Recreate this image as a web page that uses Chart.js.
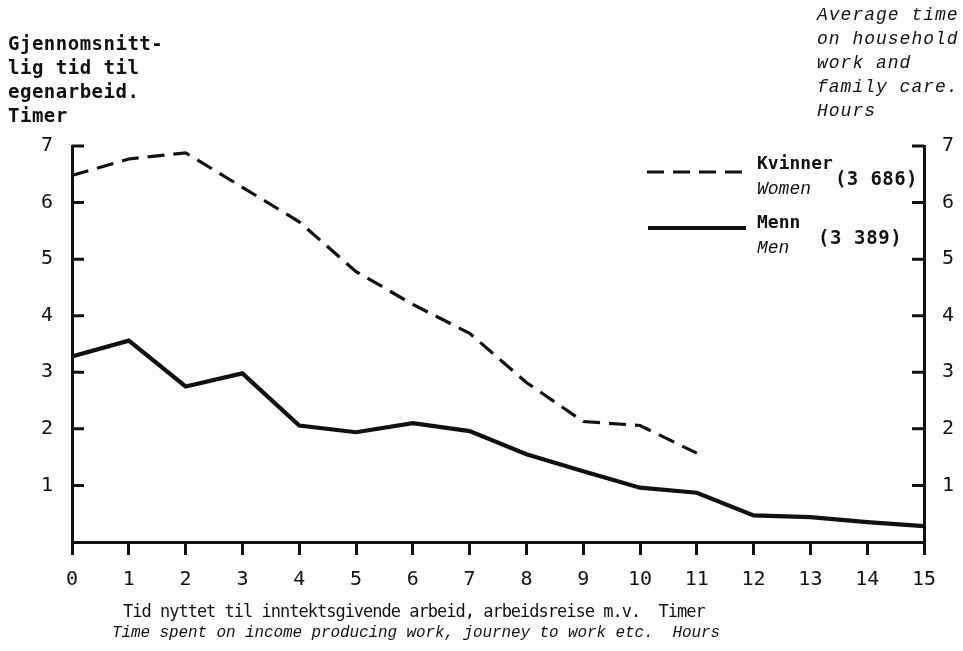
<!DOCTYPE html>
<html>
<head>
<meta charset="utf-8">
<script src="https://cdn.jsdelivr.net/npm/chart.js@4/dist/chart.umd.min.js"></script>
<style>
  html, body { margin: 0; padding: 0; background: #fff; }
  #wrap { position: relative; width: 963px; height: 651px; overflow: hidden; }
  canvas { position: absolute; left: 0; top: 0; }
  .t { position: absolute; color: #111; white-space: pre; line-height: 24px; }
  .no { font-family: "DejaVu Sans Mono", monospace; font-weight: bold; }
  .en { font-family: "Liberation Mono", "Courier New", monospace; font-style: italic; }
</style>
</head>
<body>
<div id="wrap">
  <canvas id="c" width="963" height="651"></canvas>
  <div class="t no" style="left:8px; top:31px; font-size:19px; letter-spacing:0.5px;">Gjennomsnitt-
lig tid til
egenarbeid.
Timer</div>
  <div class="t en" style="left:817px; top:3px; font-size:18px; letter-spacing:1px;">Average time
on household
work and
family care.
Hours</div>
  <div class="t no" style="left:757px; top:152px; font-size:18px; line-height:22px;">Kvinner</div>
  <div class="t no" style="left:835px; top:167px; font-size:19px; line-height:22px; letter-spacing:0.4px;">(3 686)</div>
  <div class="t en" style="left:757px; top:178px; font-size:18px; line-height:22px;">Women</div>
  <div class="t no" style="left:757px; top:211px; font-size:18px; line-height:22px;">Menn</div>
  <div class="t no" style="left:818px; top:226px; font-size:19px; line-height:22px; letter-spacing:0.6px;">(3 389)</div>
  <div class="t en" style="left:757px; top:237px; font-size:18px; line-height:22px;">Men</div>
  <div class="t no" style="left:123px; top:599px; font-size:17px; letter-spacing:-1px; font-weight:normal;">Tid nyttet til inntektsgivende arbeid, arbeidsreise m.v.  Timer</div>
  <div class="t en" style="left:112px; top:621px; font-size:16px; letter-spacing:-0.1px;">Time spent on income producing work, journey to work etc.  Hours</div>
</div>
<script>
const hours = [0, 1, 2, 3, 4, 5, 6, 7, 8, 9, 10, 11, 12, 13, 14, 15];
const womenValues = [6.48, 6.77, 6.88, 6.27, 5.66, 4.78, 4.2, 3.69, 2.82, 2.13, 2.06, 1.57];
const menValues = [3.28, 3.56, 2.75, 2.98, 2.06, 1.94, 2.1, 1.96, 1.55, 1.25, 0.96, 0.87, 0.47, 0.44, 0.35, 0.28];
const yTicks = [1, 2, 3, 4, 5, 6, 7];

const toPoints = vals => vals.map((v, i) => ({ x: hours[i], y: v }));

const innerTicks = {
  id: 'innerTicks',
  afterDraw(chart) {
    const ctx = chart.ctx;
    const a = chart.chartArea;
    const y = chart.scales.y;
    ctx.save();
    ctx.strokeStyle = '#111';
    ctx.lineWidth = 3;
    yTicks.forEach(v => {
      const py = y.getPixelForValue(v);
      ctx.beginPath();
      ctx.moveTo(a.left, py); ctx.lineTo(a.left + 12, py);
      ctx.moveTo(a.right - 12, py); ctx.lineTo(a.right, py);
      ctx.stroke();
    });
    // legend samples
    ctx.setLineDash([17, 9]);
    ctx.beginPath(); ctx.moveTo(647, 172); ctx.lineTo(745, 172); ctx.stroke();
    ctx.setLineDash([]);
    ctx.lineWidth = 4;
    ctx.beginPath(); ctx.moveTo(648, 228); ctx.lineTo(746, 228); ctx.stroke();
    ctx.restore();
  }
};

const tickFont = { family: 'DejaVu Sans Mono', size: 20 };

new Chart(document.getElementById('c'), {
  type: 'line',
  data: {
    datasets: [
      { label: 'Kvinner', data: toPoints(womenValues), borderColor: '#111', borderWidth: 3.2, borderDash: [17, 9], pointRadius: 0, tension: 0, fill: false },
      { label: 'Menn', data: toPoints(menValues), borderColor: '#111', borderWidth: 4.2, pointRadius: 0, tension: 0, fill: false }
    ]
  },
  options: {
    responsive: false,
    animation: false,
    events: [],
    layout: { padding: { top: 146, left: 0, right: 0, bottom: 0 } },
    plugins: { legend: { display: false }, tooltip: { enabled: false } },
    scales: {
      x: {
        type: 'linear', min: 0, max: 15,
        afterBuildTicks: s => { s.ticks = hours.map(v => ({ value: v })); },
        afterFit: s => { s.height = 109; },
        grid: { drawOnChartArea: false, drawTicks: true, tickLength: 13, lineWidth: 3, color: '#111' },
        border: { display: true, width: 3, color: '#111' },
        ticks: { color: '#111', font: tickFont, padding: 13, maxRotation: 0, autoSkip: false }
      },
      y: {
        position: 'left', min: 0, max: 7,
        afterBuildTicks: s => { s.ticks = yTicks.map(v => ({ value: v })); },
        afterFit: s => { s.width = 72; },
        grid: { display: false },
        border: { display: true, width: 3, color: '#111' },
        ticks: { color: '#111', font: tickFont, padding: 11 }
      },
      y2: {
        position: 'right', min: 0, max: 7,
        afterBuildTicks: s => { s.ticks = yTicks.map(v => ({ value: v })); },
        afterFit: s => { s.width = 39; },
        grid: { display: false },
        border: { display: true, width: 3, color: '#111' },
        ticks: { color: '#111', font: tickFont, padding: 10 }
      }
    }
  },
  plugins: [innerTicks]
});
</script>
</body>
</html>
